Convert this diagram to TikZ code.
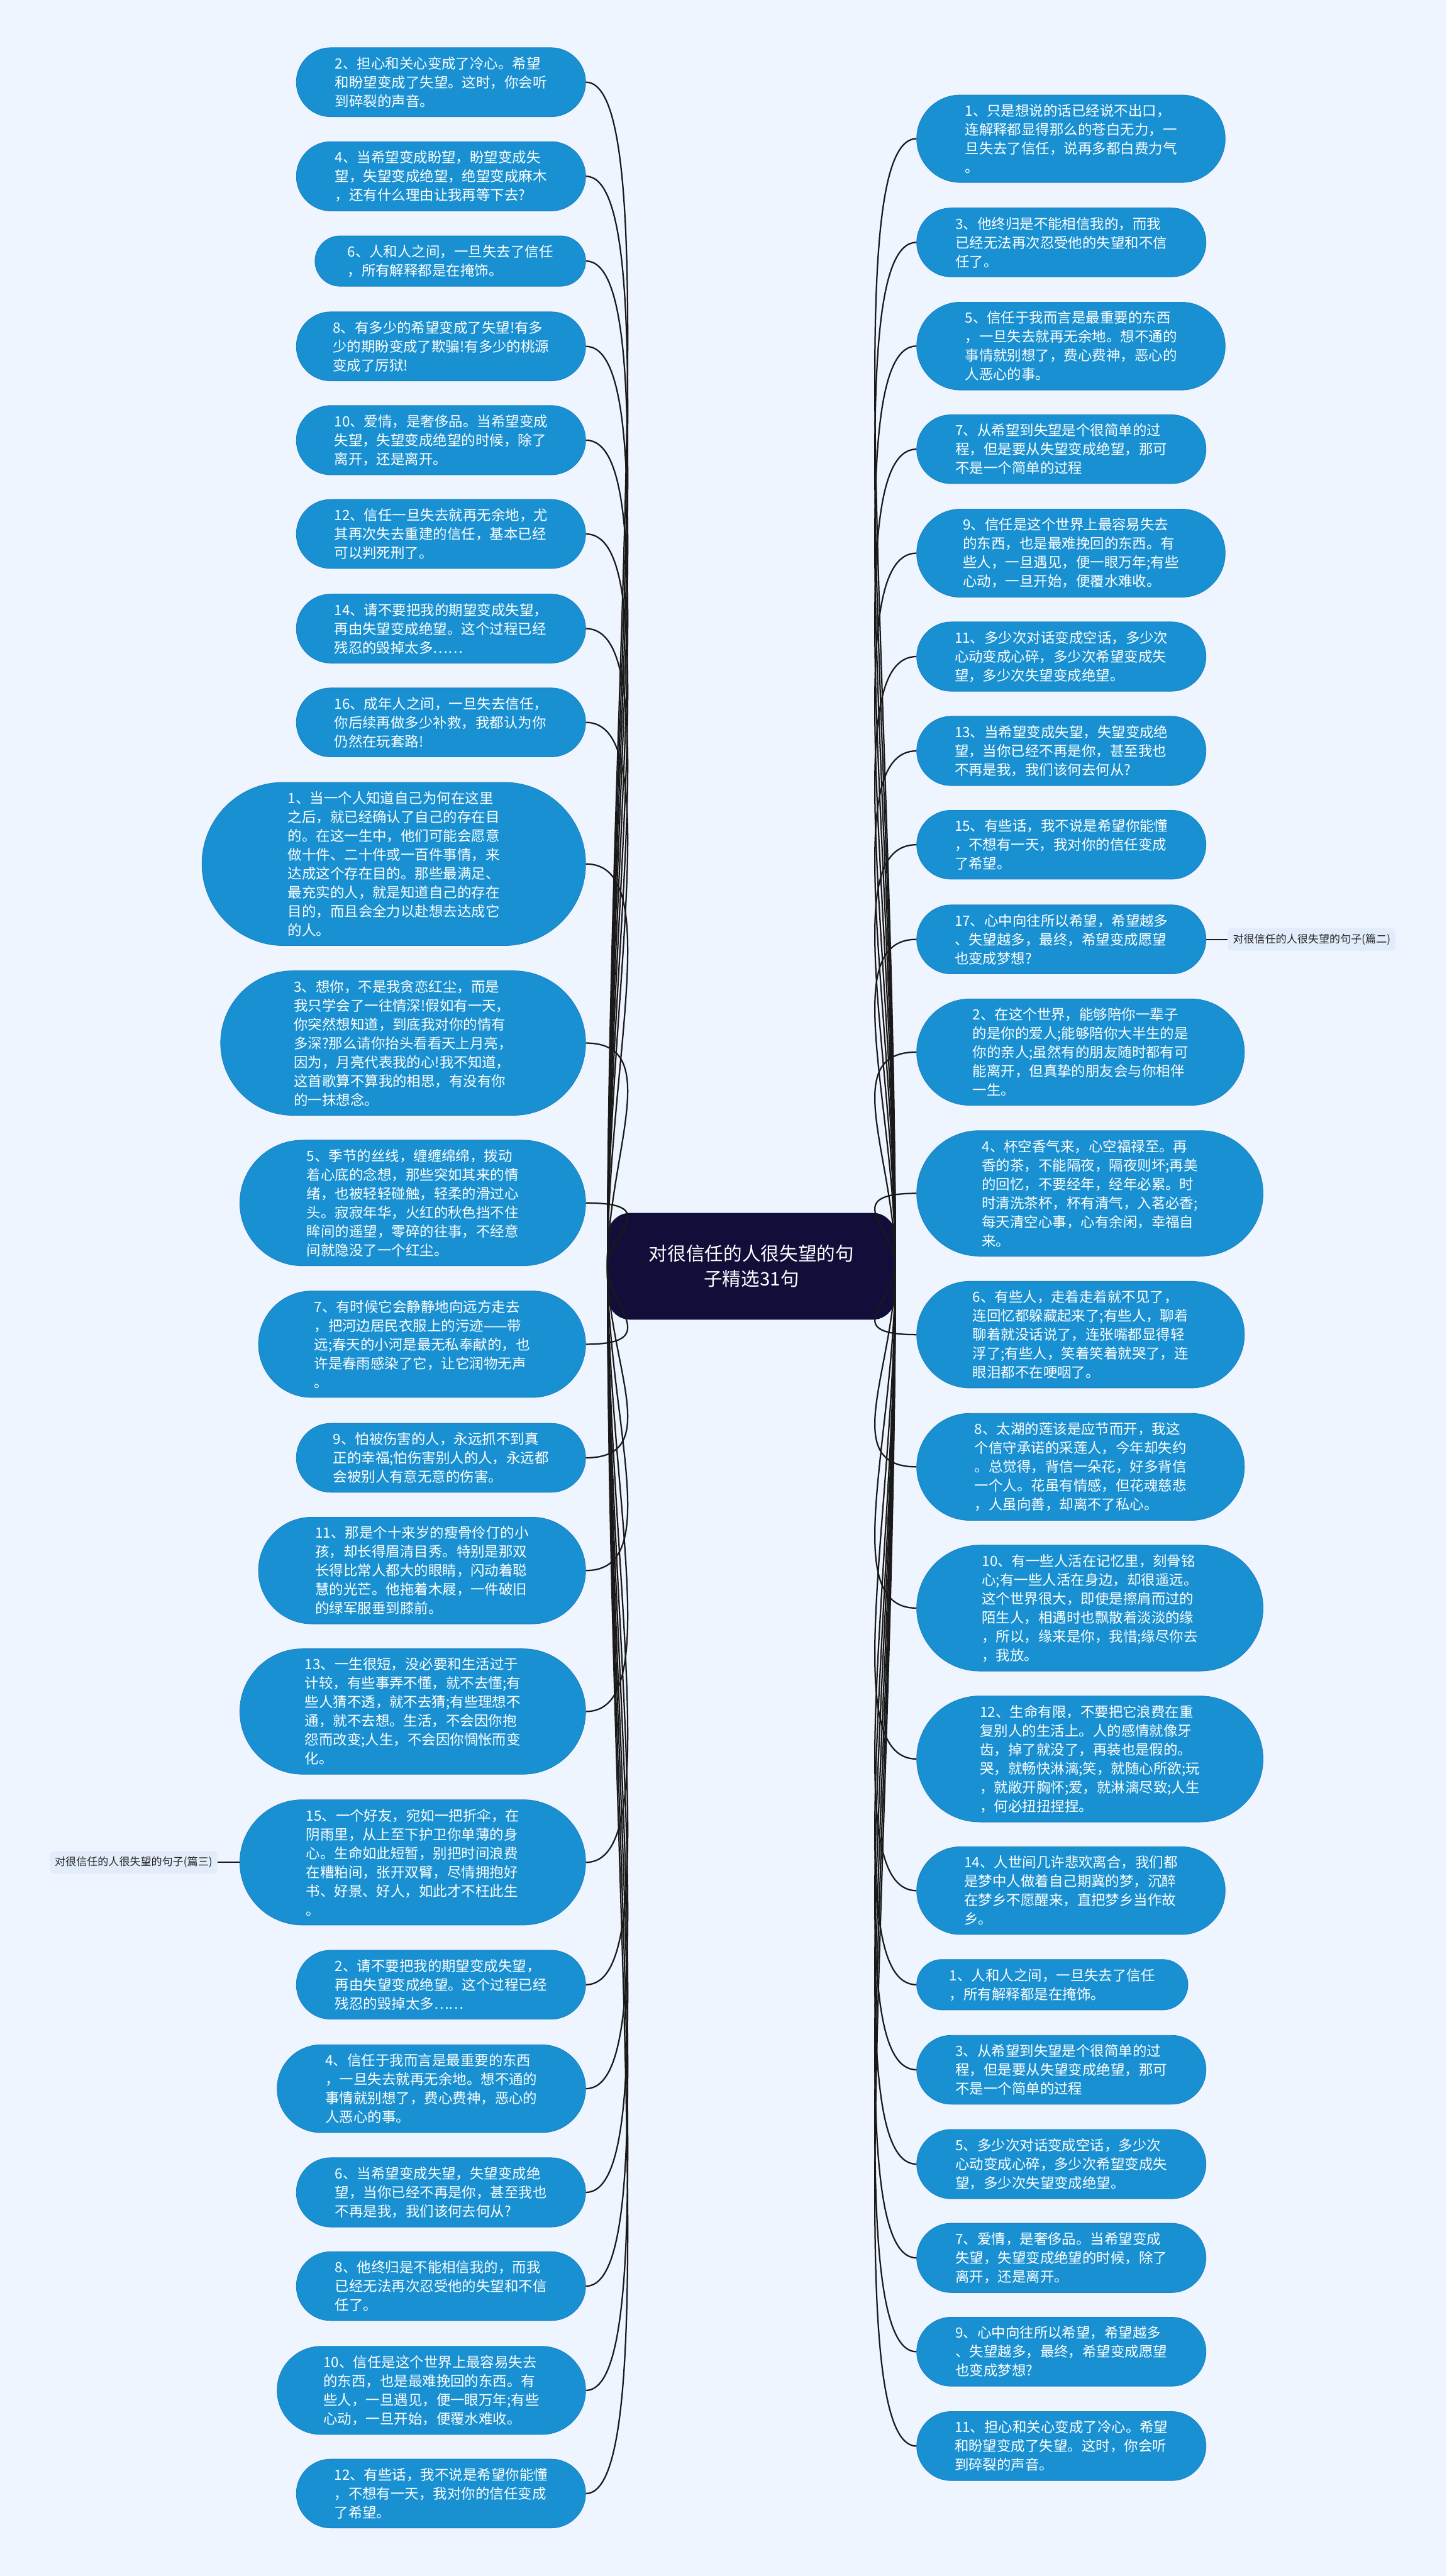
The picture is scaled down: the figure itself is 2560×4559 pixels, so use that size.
\documentclass[tikz,border=0pt]{standalone}
\usepackage{fontspec}
\setmainfont{Noto Sans CJK SC}
\usepackage{xcolor}
\definecolor{pagebg}{RGB}{239,245,255}
\definecolor{leafblue}{RGB}{24,144,210}
\definecolor{leafedge}{RGB}{32,128,190}
\definecolor{hubnavy}{RGB}{18,14,58}
\definecolor{tagbg}{RGB}{226,236,250}
\usepackage{tikz}
\usetikzlibrary{shapes.misc, positioning, calc}
\tikzset{
  leaf/.style={
    rounded rectangle, draw=leafedge, line width=1pt, fill=leafblue,
    text=white, align=left, inner xsep=0pt, inner ysep=16pt,
    font=\fontsize{25pt}{33.4pt}\selectfont},
  lleaf/.style={leaf, anchor=east},
  rleaf/.style={leaf, anchor=west},
  hub/.style={
    rectangle, rounded corners=40pt, fill=hubnavy, text=white,
    align=center, minimum width=509pt, minimum height=189pt,
    font=\fontsize{33pt}{44pt}\selectfont},
  tag/.style={
    rectangle, rounded corners=8pt, fill=tagbg, text=black!85,
    inner xsep=9pt, inner ysep=10pt,
    font=\fontsize{19pt}{24pt}\selectfont},
  link/.style={line width=2.5pt, black!90},
}
\begin{document}
\begin{tikzpicture}[x=1pt, y=-1pt]
  \fill[pagebg] (0,0) rectangle (2560,4559);
  \useasboundingbox (0,0) rectangle (2560,4559);

  \node[hub] (hub) at (1330,2241) {对很信任的人很失望的句\\子精选31句};

  % left column
  \node[lleaf, minimum width=512pt] (l1) at (1037,145.5)
    {2、担心和关心变成了冷心。希望\\和盼望变成了失望。这时，你会听\\到碎裂的声音。};
  \node[lleaf, minimum width=512pt] (l2) at (1037,312)
    {4、当希望变成盼望，盼望变成失\\望，失望变成绝望，绝望变成麻木\\，还有什么理由让我再等下去?};
  \node[lleaf, minimum width=479pt] (l3) at (1037,462)
    {6、人和人之间，一旦失去了信任\\，所有解释都是在掩饰。};
  \node[lleaf, minimum width=512pt] (l4) at (1037,613)
    {8、有多少的希望变成了失望!有多\\少的期盼变成了欺骗!有多少的桃源\\变成了厉狱!};
  \node[lleaf, minimum width=512pt] (l5) at (1037,779)
    {10、爱情，是奢侈品。当希望变成\\失望，失望变成绝望的时候，除了\\离开，还是离开。};
  \node[lleaf, minimum width=512pt] (l6) at (1037,945)
    {12、信任一旦失去就再无余地，尤\\其再次失去重建的信任，基本已经\\可以判死刑了。};
  \node[lleaf, minimum width=512pt] (l7) at (1037,1112.5)
    {14、请不要把我的期望变成失望，\\再由失望变成绝望。这个过程已经\\残忍的毁掉太多……};
  \node[lleaf, minimum width=512pt] (l8) at (1037,1278.5)
    {16、成年人之间，一旦失去信任，\\你后续再做多少补救，我都认为你\\仍然在玩套路!};
  \node[lleaf, minimum width=679pt] (l9) at (1037,1529)
    {1、当一个人知道自己为何在这里\\之后，就已经确认了自己的存在目\\的。在这一生中，他们可能会愿意\\做十件、二十件或一百件事情，来\\达成这个存在目的。那些最满足、\\最充实的人，就是知道自己的存在\\目的，而且会全力以赴想去达成它\\的人。};
  \node[lleaf, minimum width=646pt] (l10) at (1037,1846)
    {3、想你，不是我贪恋红尘，而是\\我只学会了一往情深!假如有一天，\\你突然想知道，到底我对你的情有\\多深?那么请你抬头看看天上月亮，\\因为，月亮代表我的心!我不知道，\\这首歌算不算我的相思，有没有你\\的一抹想念。};
  \node[lleaf, minimum width=612pt] (l11) at (1037,2129)
    {5、季节的丝线，缠缠绵绵，拨动\\着心底的念想，那些突如其来的情\\绪，也被轻轻碰触，轻柔的滑过心\\头。寂寂年华，火红的秋色挡不住\\眸间的遥望，零碎的往事，不经意\\间就隐没了一个红尘。};
  \node[lleaf, minimum width=579pt] (l12) at (1037,2379)
    {7、有时候它会静静地向远方走去\\，把河边居民衣服上的污迹——带\\远;春天的小河是最无私奉献的，也\\许是春雨感染了它，让它润物无声\\。};
  \node[lleaf, minimum width=512pt] (l13) at (1037,2580)
    {9、怕被伤害的人，永远抓不到真\\正的幸福;怕伤害别人的人，永远都\\会被别人有意无意的伤害。};
  \node[lleaf, minimum width=579pt] (l14) at (1037,2779.5)
    {11、那是个十来岁的瘦骨伶仃的小\\孩，却长得眉清目秀。特别是那双\\长得比常人都大的眼睛，闪动着聪\\慧的光芒。他拖着木屐，一件破旧\\的绿军服垂到膝前。};
  \node[lleaf, minimum width=612pt] (l15) at (1037,3029)
    {13、一生很短，没必要和生活过于\\计较，有些事弄不懂，就不去懂;有\\些人猜不透，就不去猜;有些理想不\\通，就不去想。生活，不会因你抱\\怨而改变;人生，不会因你惆怅而变\\化。};
  \node[lleaf, minimum width=612pt] (l16) at (1037,3296)
    {15、一个好友，宛如一把折伞，在\\阴雨里，从上至下护卫你单薄的身\\心。生命如此短暂，别把时间浪费\\在糟粕间，张开双臂，尽情拥抱好\\书、好景、好人，如此才不枉此生\\。};
  \node[lleaf, minimum width=512pt] (l17) at (1037,3512.5)
    {2、请不要把我的期望变成失望，\\再由失望变成绝望。这个过程已经\\残忍的毁掉太多……};
  \node[lleaf, minimum width=546pt] (l18) at (1037,3696.5)
    {4、信任于我而言是最重要的东西\\，一旦失去就再无余地。想不通的\\事情就别想了，费心费神，恶心的\\人恶心的事。};
  \node[lleaf, minimum width=512pt] (l19) at (1037,3880)
    {6、当希望变成失望，失望变成绝\\望，当你已经不再是你，甚至我也\\不再是我，我们该何去何从?};
  \node[lleaf, minimum width=512pt] (l20) at (1037,4046)
    {8、他终归是不能相信我的，而我\\已经无法再次忍受他的失望和不信\\任了。};
  \node[lleaf, minimum width=546pt] (l21) at (1037,4230.5)
    {10、信任是这个世界上最容易失去\\的东西，也是最难挽回的东西。有\\些人，一旦遇见，便一眼万年;有些\\心动，一旦开始，便覆水难收。};
  \node[lleaf, minimum width=512pt] (l22) at (1037,4413)
    {12、有些话，我不说是希望你能懂\\，不想有一天，我对你的信任变成\\了希望。};

  % right column
  \node[rleaf, minimum width=546pt] (r1) at (1622,245.5)
    {1、只是想说的话已经说不出口，\\连解释都显得那么的苍白无力，一\\旦失去了信任，说再多都白费力气\\。};
  \node[rleaf, minimum width=512pt] (r2) at (1622,429)
    {3、他终归是不能相信我的，而我\\已经无法再次忍受他的失望和不信\\任了。};
  \node[rleaf, minimum width=546pt] (r3) at (1622,612.5)
    {5、信任于我而言是最重要的东西\\，一旦失去就再无余地。想不通的\\事情就别想了，费心费神，恶心的\\人恶心的事。};
  \node[rleaf, minimum width=512pt] (r4) at (1622,795)
    {7、从希望到失望是个很简单的过\\程，但是要从失望变成绝望，那可\\不是一个简单的过程};
  \node[rleaf, minimum width=546pt] (r5) at (1622,979)
    {9、信任是这个世界上最容易失去\\的东西，也是最难挽回的东西。有\\些人，一旦遇见，便一眼万年;有些\\心动，一旦开始，便覆水难收。};
  \node[rleaf, minimum width=512pt] (r6) at (1622,1162)
    {11、多少次对话变成空话，多少次\\心动变成心碎，多少次希望变成失\\望，多少次失望变成绝望。};
  \node[rleaf, minimum width=512pt] (r7) at (1622,1329)
    {13、当希望变成失望，失望变成绝\\望，当你已经不再是你，甚至我也\\不再是我，我们该何去何从?};
  \node[rleaf, minimum width=512pt] (r8) at (1622,1495)
    {15、有些话，我不说是希望你能懂\\，不想有一天，我对你的信任变成\\了希望。};
  \node[rleaf, minimum width=512pt] (r9) at (1622,1662.5)
    {17、心中向往所以希望，希望越多\\、失望越多，最终，希望变成愿望\\也变成梦想?};
  \node[rleaf, minimum width=580pt] (r10) at (1622,1862)
    {2、在这个世界，能够陪你一辈子\\的是你的爱人;能够陪你大半生的是\\你的亲人;虽然有的朋友随时都有可\\能离开，但真挚的朋友会与你相伴\\一生。};
  \node[rleaf, minimum width=613pt] (r11) at (1622,2112)
    {4、杯空香气来，心空福禄至。再\\香的茶，不能隔夜，隔夜则坏;再美\\的回忆，不要经年，经年必累。时\\时清洗茶杯，杯有清气，入茗必香;\\每天清空心事，心有余闲，幸福自\\来。};
  \node[rleaf, minimum width=580pt] (r12) at (1622,2362)
    {6、有些人，走着走着就不见了，\\连回忆都躲藏起来了;有些人，聊着\\聊着就没话说了，连张嘴都显得轻\\浮了;有些人，笑着笑着就哭了，连\\眼泪都不在哽咽了。};
  \node[rleaf, minimum width=580pt] (r13) at (1622,2596)
    {8、太湖的莲该是应节而开，我这\\个信守承诺的采莲人，今年却失约\\。总觉得，背信一朵花，好多背信\\一个人。花虽有情感，但花魂慈悲\\，人虽向善，却离不了私心。};
  \node[rleaf, minimum width=613pt] (r14) at (1622,2846)
    {10、有一些人活在记忆里，刻骨铭\\心;有一些人活在身边，却很遥远。\\这个世界很大，即使是擦肩而过的\\陌生人，相遇时也飘散着淡淡的缘\\，所以，缘来是你，我惜;缘尽你去\\，我放。};
  \node[rleaf, minimum width=613pt] (r15) at (1622,3113)
    {12、生命有限，不要把它浪费在重\\复别人的生活上。人的感情就像牙\\齿，掉了就没了，再装也是假的。\\哭，就畅快淋漓;笑，就随心所欲;玩\\，就敞开胸怀;爱，就淋漓尽致;人生\\，何必扭扭捏捏。};
  \node[rleaf, minimum width=546pt] (r16) at (1622,3346)
    {14、人世间几许悲欢离合，我们都\\是梦中人做着自己期冀的梦，沉醉\\在梦乡不愿醒来，直把梦乡当作故\\乡。};
  \node[rleaf, minimum width=480pt] (r17) at (1622,3512.5)
    {1、人和人之间，一旦失去了信任\\，所有解释都是在掩饰。};
  \node[rleaf, minimum width=512pt] (r18) at (1622,3663)
    {3、从希望到失望是个很简单的过\\程，但是要从失望变成绝望，那可\\不是一个简单的过程};
  \node[rleaf, minimum width=512pt] (r19) at (1622,3830)
    {5、多少次对话变成空话，多少次\\心动变成心碎，多少次希望变成失\\望，多少次失望变成绝望。};
  \node[rleaf, minimum width=512pt] (r20) at (1622,3996)
    {7、爱情，是奢侈品。当希望变成\\失望，失望变成绝望的时候，除了\\离开，还是离开。};
  \node[rleaf, minimum width=512pt] (r21) at (1622,4162)
    {9、心中向往所以希望，希望越多\\、失望越多，最终，希望变成愿望\\也变成梦想?};
  \node[rleaf, minimum width=512pt] (r22) at (1622,4329)
    {11、担心和关心变成了冷心。希望\\和盼望变成了失望。这时，你会听\\到碎裂的声音。};

  % side labels
  \node[tag, right=38pt of r9] (side2) {对很信任的人很失望的句子(篇二)};
  \node[tag, left=39pt of l16] (side3) {对很信任的人很失望的句子(篇三)};

  % connectors
  \foreach \i in {1,...,22}{
    \draw[link] let \p0=(hub.west), \p1=(l\i.east) in
      (\p0) .. controls (\x0,{0.5*(\y0+\y1)}) and ({\x1+140pt},\y1) .. (\p1);
    \draw[link] let \p0=(hub.east), \p1=(r\i.west) in
      (\p0) .. controls (\x0,{0.5*(\y0+\y1)}) and ({\x1-140pt},\y1) .. (\p1);
  }
  \draw[link] (r9.east) -- (side2.west);
  \draw[link] (side3.east) -- (l16.west);
\end{tikzpicture}
\end{document}
